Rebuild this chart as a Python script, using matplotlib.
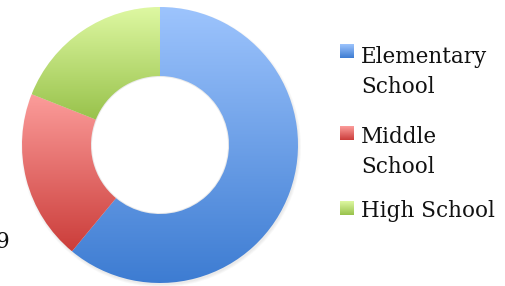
import matplotlib.pyplot as plt
import numpy as np
from matplotlib.colors import LinearSegmentedColormap
from matplotlib.patches import Circle

labels = ['Elementary\nSchool', 'Middle\nSchool', 'High School']
shares = [61, 20, 19]
tops = ['#9dc4fd', '#fc9d9b', '#def8a2']
bottoms = ['#3d7cd2', '#cb3d3a', '#98c24b']

W, H = 505, 286
cx, cy, R = 160, 141, 138

fig = plt.figure(figsize=(W / 100, H / 100), dpi=100)
ax = fig.add_axes([0, 0, 1, 1])

# soft shadow behind ring
for i, a in enumerate([0.05, 0.05, 0.06]):
    ax.add_patch(Circle((cx + 1, cy - 2), R + 2 - i, color='#808080', alpha=a, lw=0, zorder=1))
ax.add_patch(Circle((cx, cy), R / 2 - 1, color='white', lw=0, zorder=1.5))

wedges, _ = ax.pie(shares, radius=R, center=(cx, cy), startangle=90,
                   counterclock=False, wedgeprops=dict(width=R / 2, lw=0))

grad = np.linspace(1, 0, 256).reshape(-1, 1)
for w, t, b in zip(wedges, tops, bottoms):
    w.set_facecolor('none')
    ext = w.get_path().get_extents()
    cmap = LinearSegmentedColormap.from_list('g', [b, t])
    im = ax.imshow(grad, cmap=cmap, aspect='auto', interpolation='bilinear',
                   extent=(ext.x0, ext.x1, ext.y0, ext.y1), zorder=2)
    im.set_clip_path(w)

ax.set_xlim(0, W)
ax.set_ylim(0, H)
ax.set_aspect('auto')
ax.axis('off')

# legend
font = dict(family='DejaVu Serif', fontsize=15.5, color='#111111')
sq_y = [44, 126, 201]
text_y = [63, 143, 217]
for lab, t, b, sy, ty in zip(labels, tops, bottoms, sq_y, text_y):
    cmap = LinearSegmentedColormap.from_list('g', [b, t])
    ax.imshow(grad, cmap=cmap, aspect='auto', extent=(340, 354, H - sy - 14, H - sy), zorder=3)
    for k, line in enumerate(lab.split('\n')):
        ax.text(361, H - ty - 30 * k, line, va='baseline', ha='left', **font)

ax.text(9, H - 248, '9', va='baseline', ha='right', **font)

fig.savefig('out.png', dpi=100)
